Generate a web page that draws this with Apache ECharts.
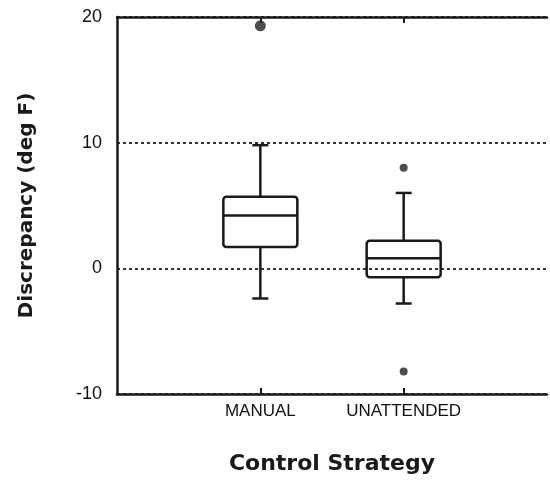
<!DOCTYPE html>
<html>
<head>
<meta charset="utf-8">
<script src="https://cdn.jsdelivr.net/npm/echarts@6/dist/echarts.min.js"></script>
<style>
html,body{margin:0;padding:0;background:#fff;}
#chart{width:550px;height:480px;}
</style>
</head>
<body>
<div id="chart"></div>
<script>
// Data
var categories = ['MANUAL', 'UNATTENDED'];
// [whiskerLow, Q1, median, Q3, whiskerHigh]
var manualBox = [-2.4, 1.7, 4.2, 5.7, 9.8];
var unattendedBox = [-2.8, -0.7, 0.8, 2.2, 6.0];
var manualOutliers = [19.3];
var unattendedOutliers = [8.0, -8.2];
var yTicks = [-10, 0, 10, 20];

// Axis categories padded with empty slots at both ends
var axisCats = [''].concat(categories).concat(['']);
var boxData = [[1].concat(manualBox), [2].concat(unattendedBox)];
var outlierData = manualOutliers.map(function (v) { return [1, v]; })
  .concat(unattendedOutliers.map(function (v) { return [2, v]; }));

var ink = '#1a1a1a';

var chart = echarts.init(document.getElementById('chart'), null, {renderer: 'canvas'});
chart.setOption({
  backgroundColor: '#fff',
  animation: false,
  grid: {left: 117, right: -2, top: 17, bottom: 86, containLabel: false},
  xAxis: [{
    type: 'category',
    data: axisCats,
    boundaryGap: false,
    position: 'bottom',
    axisLine: {show: true, onZero: false, lineStyle: {color: ink, width: 2.5}},
    axisTick: {show: true, inside: true, length: 6, lineStyle: {color: ink, width: 2},
      interval: function (i) { return i === 1 || i === 2; }},
    axisLabel: {color: '#111', fontFamily: 'Liberation Sans', fontSize: 17, margin: 9,
      interval: 0},
    splitLine: {show: false},
    name: 'Control Strategy',
    nameLocation: 'middle',
    nameGap: 59,
    nameTextStyle: {color: ink, fontFamily: 'DejaVu Sans', fontWeight: 'bold', fontSize: 22}
  }, {
    type: 'category',
    data: axisCats,
    boundaryGap: false,
    position: 'top',
    axisLine: {show: true, onZero: false, lineStyle: {color: ink, width: 2.5}},
    axisTick: {show: true, inside: true, length: 6, lineStyle: {color: ink, width: 2},
      interval: function (i) { return i === 1 || i === 2; }},
    axisLabel: {show: false},
    splitLine: {show: false}
  }],
  yAxis: {
    type: 'value',
    min: yTicks[0],
    max: yTicks[yTicks.length - 1],
    interval: 10,
    axisLine: {show: true, lineStyle: {color: ink, width: 2.5}},
    axisTick: {show: false},
    axisLabel: {color: '#111', fontFamily: 'Liberation Sans', fontSize: 18, margin: 15},
    splitLine: {show: true, lineStyle: {color: '#333', width: 2, type: [3, 3]}},
    name: 'Discrepancy (deg F)',
    nameLocation: 'middle',
    nameGap: 80,
    nameTextStyle: {color: ink, fontFamily: 'DejaVu Sans', fontWeight: 'bold', fontSize: 20}
  },
  series: [{
    type: 'custom',
    xAxisIndex: 0,
    data: boxData,
    encode: {x: 0, y: [1, 2, 3, 4, 5]},
    renderItem: function (params, api) {
      var x = api.value(0);
      var pLow = api.coord([x, api.value(1)]);
      var pQ1 = api.coord([x, api.value(2)]);
      var pMed = api.coord([x, api.value(3)]);
      var pQ3 = api.coord([x, api.value(4)]);
      var pHigh = api.coord([x, api.value(5)]);
      var cx = pLow[0];
      var half = 37, cap = 8;
      var st = {stroke: ink, lineWidth: 2.5, fill: null};
      return {
        type: 'group',
        children: [
          {type: 'rect', shape: {x: cx - half, y: pQ3[1], width: 2 * half, height: pQ1[1] - pQ3[1], r: 3}, style: st},
          {type: 'line', shape: {x1: cx - half, y1: pMed[1], x2: cx + half, y2: pMed[1]}, style: st},
          {type: 'line', shape: {x1: cx, y1: pQ3[1], x2: cx, y2: pHigh[1]}, style: st},
          {type: 'line', shape: {x1: cx, y1: pQ1[1], x2: cx, y2: pLow[1]}, style: st},
          {type: 'line', shape: {x1: cx - cap, y1: pHigh[1], x2: cx + cap, y2: pHigh[1]}, style: st},
          {type: 'line', shape: {x1: cx - cap, y1: pLow[1], x2: cx + cap, y2: pLow[1]}, style: st}
        ]
      };
    },
    z: 3
  }, {
    type: 'scatter',
    xAxisIndex: 0,
    data: outlierData,
    symbol: 'circle',
    symbolSize: function (v) { return v[1] > 15 ? 11 : 8; },
    itemStyle: {color: '#222'},
    z: 4
  }]
});
</script>
</body>
</html>
